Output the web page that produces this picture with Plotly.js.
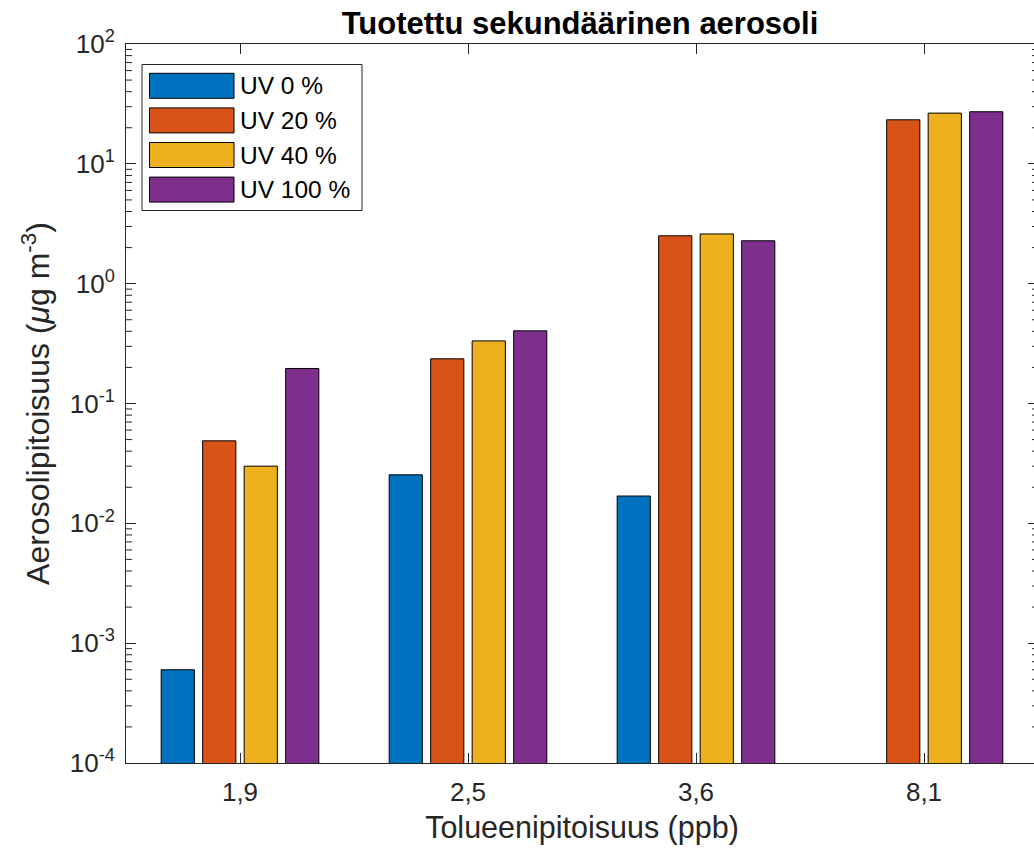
<!DOCTYPE html>
<html>
<head>
<meta charset="utf-8">
<script src="https://cdn.plot.ly/plotly-3.0.1.min.js"></script>
<style>
html,body{margin:0;padding:0;overflow:hidden;background:#fff;width:1034px;height:852px;}
#chart{width:1050px;height:852px;}
</style>
</head>
<body>
<div id="chart"></div>
<script>
// ---- data ----
var categories = ['1,9', '2,5', '3,6', '8,1'];
var seriesNames = ['UV 0 %', 'UV 20 %', 'UV 40 %', 'UV 100 %'];
var uv0   = [0.00060, 0.0254, 0.0169, null];
var uv20  = [0.0488, 0.236, 2.51, 23.3];
var uv40  = [0.0300, 0.333, 2.60, 26.5];
var uv100 = [0.196, 0.404, 2.28, 27.2];
var yTickVals = [1e-4, 1e-3, 1e-2, 1e-1, 1e0, 1e1, 1e2];
var yTickText = ['10<sup>-4</sup>', '10<sup>-3</sup>', '10<sup>-2</sup>', '10<sup>-1</sup>',
                 '10<sup>0</sup>', '10<sup>1</sup>', '10<sup>2</sup>'];
var colors = ['#0072BD', '#D95319', '#EDB120', '#7E2F8E'];

// ---- layout constants (pixels) ----
var W = 1050, H = 852;
var mL = 126, mR = 12, mT = 44, mB = 89;
var pw = W - mL - mR, ph = H - mT - mB;
var yRange = [-4, 2];
function px2x(p) { return (p - mL) / pw; }
function px2y(p) { return (H - mB - p) / ph; }

var allSeries = [uv0, uv20, uv40, uv100];
var traces = allSeries.map(function (vals, i) {
  return {
    type: 'bar',
    name: seriesNames[i],
    x: categories,
    y: vals,
    marker: {color: colors[i], line: {color: '#000000', width: 1}},
    showlegend: false,
    hoverinfo: 'x+y+name'
  };
});

// map Plotly's default log-axis labels (power format) to MATLAB-style labels
var labelAlias = {};
yTickVals.forEach(function (v, i) {
  var p = Math.round(Math.log10(v));
  var def;
  if (p === 0) def = '1';
  else if (p === 1) def = '10';
  else def = '10<sup>' + (p < 0 ? '\u2212' : '') + Math.abs(p) + '</sup>';
  labelAlias[def] = yTickText[i];
});

var axColor = '#262626';
var fontFam = 'Liberation Sans, Arial, Helvetica, sans-serif';

var shapes = [];
var annotations = [];

// minor log ticks (2..9 in each decade) on both sides of the y axis
var minorLen = 6;
for (var d = 0; d < yTickVals.length - 1; d++) {
  for (var m = 2; m <= 9; m++) {
    var yp = (Math.log10(m * yTickVals[d]) - yRange[0]) / (yRange[1] - yRange[0]);
    shapes.push({type: 'line', xref: 'paper', yref: 'paper', x0: 0, x1: minorLen / pw,
      y0: yp, y1: yp, line: {color: axColor, width: 1}, layer: 'above'});
    shapes.push({type: 'line', xref: 'paper', yref: 'paper', x0: 1 - minorLen / pw, x1: 1,
      y0: yp, y1: yp, line: {color: axColor, width: 1}, layer: 'above'});
  }
}

// custom legend (MATLAB-style large swatches)
var legL = 142, legR = 362, legT = 64.5, legB = 210.5;
shapes.push({type: 'rect', xref: 'paper', yref: 'paper',
  x0: px2x(legL), x1: px2x(legR), y0: px2y(legB), y1: px2y(legT),
  line: {color: axColor, width: 1}, fillcolor: '#ffffff', layer: 'above'});
for (var k = 0; k < seriesNames.length; k++) {
  var swTop = 73.3 + k * 34.6, swBot = swTop + 25;
  shapes.push({type: 'rect', xref: 'paper', yref: 'paper',
    x0: px2x(149.5), x1: px2x(234), y0: px2y(swBot), y1: px2y(swTop),
    line: {color: '#000000', width: 1}, fillcolor: colors[k], layer: 'above'});
  annotations.push({xref: 'paper', yref: 'paper', x: px2x(238), y: px2y((swTop + swBot) / 2),
    xanchor: 'left', yanchor: 'middle', showarrow: false, text: seriesNames[k],
    font: {family: fontFam, size: 24.5, color: '#000000'}});
}

var layout = {
  width: W, height: H,
  margin: {l: mL, r: mR, t: mT, b: mB, pad: 0},
  paper_bgcolor: '#ffffff', plot_bgcolor: '#ffffff',
  font: {family: fontFam, color: axColor},
  title: {text: '<b>Tuotettu sekundäärinen aerosoli</b>', x: px2x(580), xref: 'paper', xanchor: 'center',
          y: 1 - 23 / H, yref: 'container', yanchor: 'middle',
          font: {family: fontFam, size: 31, color: '#000000'}},
  barmode: 'group',
  bargap: 0.272,
  bargroupgap: 0.2,
  xaxis: {
    type: 'category',
    range: [-0.5, 3.5],
    showline: true, linecolor: axColor, linewidth: 1, mirror: 'ticks',
    ticks: 'inside', ticklen: 10, tickcolor: axColor, tickwidth: 1,
    tickfont: {family: fontFam, size: 26, color: axColor},
    ticklabelstandoff: 6,
    showgrid: false, zeroline: false,
    title: {text: 'Tolueenipitoisuus (ppb)', standoff: 10, font: {family: fontFam, size: 30.5, color: axColor}}
  },
  yaxis: {
    type: 'log',
    range: yRange,
    tickmode: 'linear', tick0: 0, dtick: 1,
    exponentformat: 'power', showexponent: 'all',
    labelalias: labelAlias,
    showline: true, linecolor: axColor, linewidth: 1, mirror: 'ticks',
    ticks: 'inside', ticklen: 10, tickcolor: axColor, tickwidth: 1,
    tickfont: {family: fontFam, size: 26 / 1.25, color: axColor},
    ticklabelstandoff: 6,
    showgrid: false, zeroline: false,
    title: {text: 'Aerosolipitoisuus (<i>μ</i>g m<sup>-3</sup>)', standoff: 10, font: {family: fontFam, size: 32, color: axColor}}
  },
  shapes: shapes,
  annotations: annotations
};

Plotly.newPlot('chart', traces, layout, {displayModeBar: false, staticPlot: true});
</script>
</body>
</html>
